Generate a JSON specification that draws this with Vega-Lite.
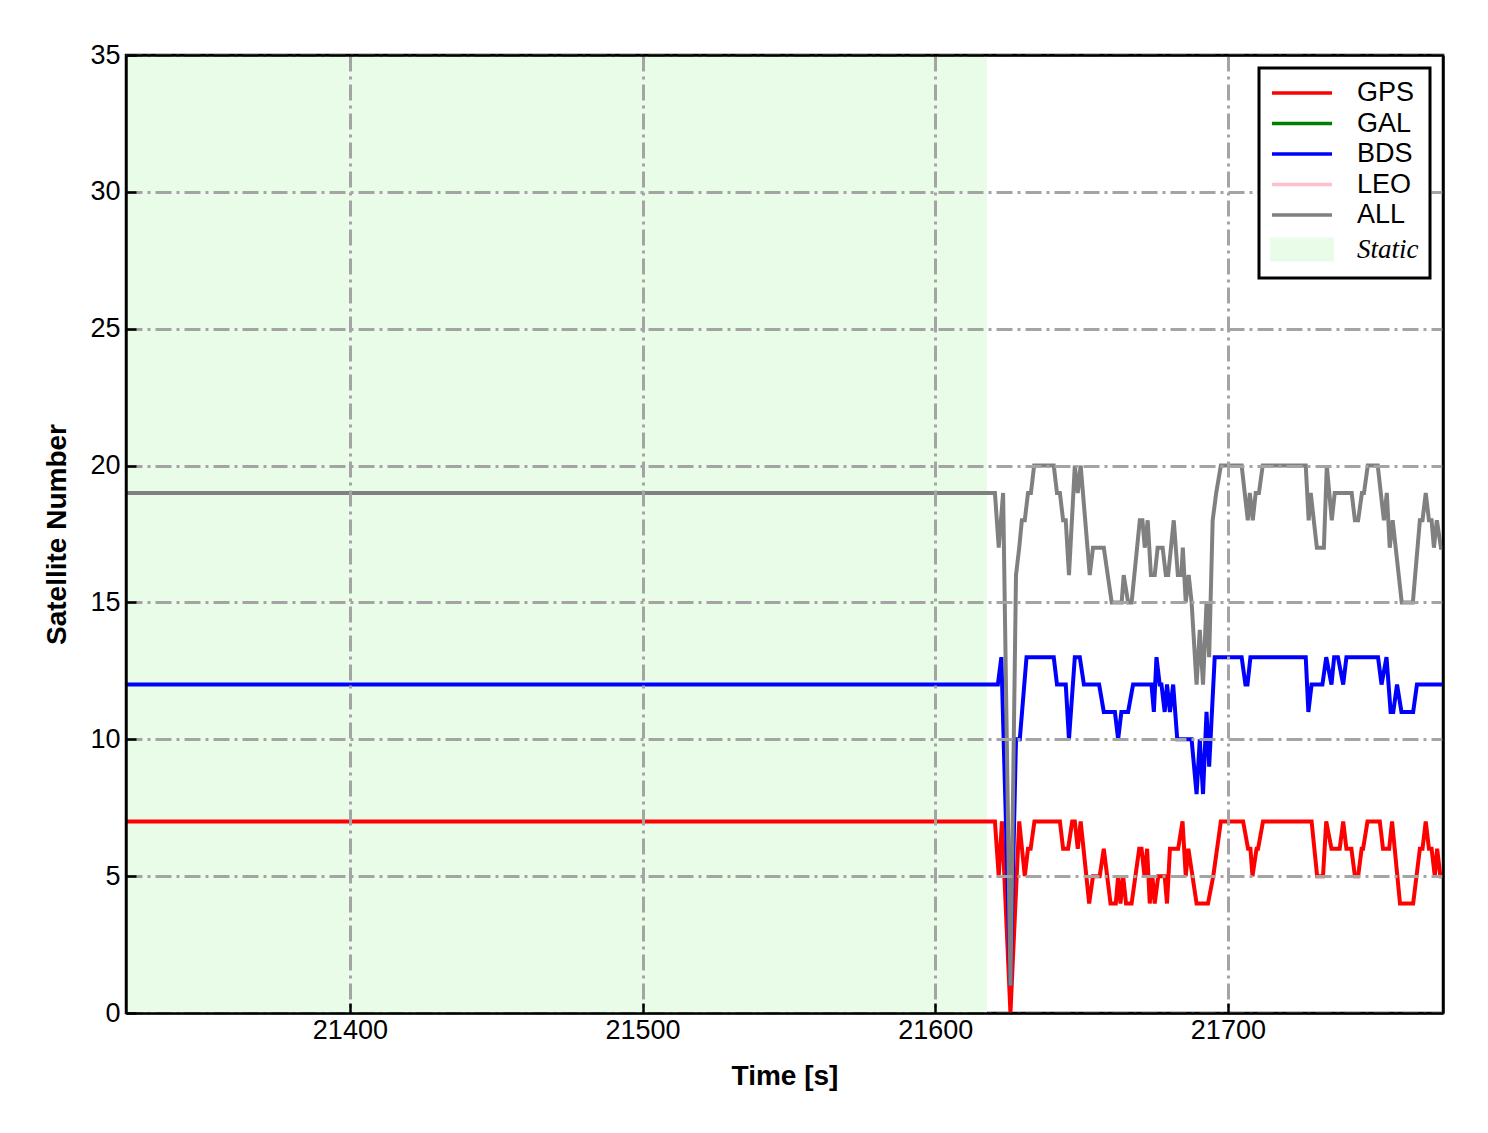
{
  "$schema": "https://vega.github.io/schema/vega-lite/v6.json",
  "width": 1317,
  "height": 958,
  "autosize": {"type": "none"},
  "padding": {"left": 126, "top": 55, "right": 45, "bottom": 120},
  "background": "white",
  "config": {
    "view": {"stroke": "black", "strokeWidth": 2.5},
    "axis": {
      "labelFont": "Liberation Sans", "labelFontSize": 27, "labelColor": "black",
      "titleFont": "Liberation Sans", "titleFontSize": 28, "titleFontWeight": "bold", "titleColor": "black",
      "domain": true, "domainColor": "black", "domainWidth": 2.5,
      "tickColor": "black", "tickWidth": 2.5,
      "gridColor": "#a4a4a4", "gridWidth": 3, "gridDash": [16, 5, 3, 5]
    },
    "legend": {
      "orient": "top-right", "offset": 13, "title": null,
      "strokeColor": "black", "strokeWidth": 3, "fillColor": "white", "padding": 11,
      "symbolSize": 576, "symbolOffset": 18, "labelOffset": 41, "rowPadding": 3.5,
      "labelFont": "Liberation Sans", "labelFontSize": 27, "labelColor": "black",
      "symbolStrokeWidth": 3.5, "symbolType": "M-2.5,0H2.5"
    }
  },
  "resolve": {"axis": {"x": "independent", "y": "independent"}},
  "layer": [
    {
      "data": {"values": [{"start": 21323.5, "end": 21617.7, "s": "Static"}]},
      "mark": {"type": "rect", "zindex": 0},
      "encoding": {
        "x": {"field": "start", "type": "quantitative", "scale": {"domain": [21323.5, 21773.5], "nice": false, "zero": false},
              "axis": {"orient": "top", "title": null, "labels": false, "ticks": false, "grid": false, "zindex": 1, "values": [21400, 21500, 21600, 21700]}},
        "x2": {"field": "end"},
        "y": {"datum": 0, "type": "quantitative",
              "axis": {"orient": "right", "title": null, "labels": false, "ticks": false, "grid": false, "zindex": 1, "values": [0, 5, 10, 15, 20, 25, 30, 35]}},
        "y2": {"datum": 35},
        "color": {"field": "s", "type": "nominal"}
      }
    },
    {
      "data": {"values": [
        {"t":21323.5,"n":7,"s":"GPS"},{"t":21620.4,"n":7,"s":"GPS"},{"t":21621.7,"n":5,"s":"GPS"},{"t":21622.8,"n":7,"s":"GPS"},{"t":21625.7,"n":0,"s":"GPS"},{"t":21628.7,"n":7,"s":"GPS"},{"t":21630.6,"n":5,"s":"GPS"},{"t":21631.7,"n":6,"s":"GPS"},{"t":21632.6,"n":6,"s":"GPS"},{"t":21633.9,"n":7,"s":"GPS"},{"t":21642.6,"n":7,"s":"GPS"},{"t":21643.7,"n":6,"s":"GPS"},{"t":21645.4,"n":6,"s":"GPS"},{"t":21646.8,"n":7,"s":"GPS"},{"t":21647.7,"n":7,"s":"GPS"},{"t":21648.7,"n":6,"s":"GPS"},{"t":21649.7,"n":7,"s":"GPS"},{"t":21652.6,"n":4,"s":"GPS"},{"t":21653.9,"n":5,"s":"GPS"},{"t":21656.2,"n":5,"s":"GPS"},{"t":21657.6,"n":6,"s":"GPS"},{"t":21659.9,"n":4,"s":"GPS"},{"t":21661.7,"n":4,"s":"GPS"},{"t":21662.5,"n":5,"s":"GPS"},{"t":21663.3,"n":4,"s":"GPS"},{"t":21664.2,"n":5,"s":"GPS"},{"t":21665.2,"n":4,"s":"GPS"},{"t":21667.1,"n":4,"s":"GPS"},{"t":21669.7,"n":6,"s":"GPS"},{"t":21670.5,"n":6,"s":"GPS"},{"t":21671.5,"n":5,"s":"GPS"},{"t":21672.4,"n":6,"s":"GPS"},{"t":21673.3,"n":4,"s":"GPS"},{"t":21674.2,"n":5,"s":"GPS"},{"t":21675.0,"n":4,"s":"GPS"},{"t":21676.2,"n":5,"s":"GPS"},{"t":21678.4,"n":5,"s":"GPS"},{"t":21679.2,"n":4,"s":"GPS"},{"t":21680.2,"n":6,"s":"GPS"},{"t":21683.0,"n":6,"s":"GPS"},{"t":21684.5,"n":7,"s":"GPS"},{"t":21685.6,"n":5,"s":"GPS"},{"t":21686.5,"n":6,"s":"GPS"},{"t":21689.3,"n":4,"s":"GPS"},{"t":21693.2,"n":4,"s":"GPS"},{"t":21695.0,"n":5,"s":"GPS"},{"t":21697.6,"n":7,"s":"GPS"},{"t":21705.2,"n":7,"s":"GPS"},{"t":21706.9,"n":6,"s":"GPS"},{"t":21707.7,"n":6,"s":"GPS"},{"t":21708.4,"n":5,"s":"GPS"},{"t":21709.8,"n":6,"s":"GPS"},{"t":21710.3,"n":6,"s":"GPS"},{"t":21712.0,"n":7,"s":"GPS"},{"t":21728.6,"n":7,"s":"GPS"},{"t":21730.5,"n":5,"s":"GPS"},{"t":21732.5,"n":5,"s":"GPS"},{"t":21733.6,"n":7,"s":"GPS"},{"t":21735.4,"n":6,"s":"GPS"},{"t":21738.2,"n":6,"s":"GPS"},{"t":21739.4,"n":7,"s":"GPS"},{"t":21740.5,"n":6,"s":"GPS"},{"t":21742.2,"n":6,"s":"GPS"},{"t":21743.4,"n":5,"s":"GPS"},{"t":21744.5,"n":5,"s":"GPS"},{"t":21745.7,"n":6,"s":"GPS"},{"t":21746.2,"n":6,"s":"GPS"},{"t":21747.7,"n":7,"s":"GPS"},{"t":21751.9,"n":7,"s":"GPS"},{"t":21753.0,"n":6,"s":"GPS"},{"t":21755.1,"n":6,"s":"GPS"},{"t":21756.1,"n":7,"s":"GPS"},{"t":21758.8,"n":4,"s":"GPS"},{"t":21763.3,"n":4,"s":"GPS"},{"t":21765.6,"n":6,"s":"GPS"},{"t":21766.5,"n":6,"s":"GPS"},{"t":21767.6,"n":7,"s":"GPS"},{"t":21768.7,"n":6,"s":"GPS"},{"t":21769.6,"n":6,"s":"GPS"},{"t":21770.7,"n":5,"s":"GPS"},{"t":21771.5,"n":6,"s":"GPS"},{"t":21772.6,"n":5,"s":"GPS"},{"t":21773.5,"n":5,"s":"GPS"},
        {"t":21323.5,"n":12,"s":"BDS"},{"t":21621.4,"n":12,"s":"BDS"},{"t":21622.6,"n":13,"s":"BDS"},{"t":21625.7,"n":1,"s":"BDS"},{"t":21627.6,"n":10,"s":"BDS"},{"t":21628.9,"n":10,"s":"BDS"},{"t":21631.2,"n":13,"s":"BDS"},{"t":21640.5,"n":13,"s":"BDS"},{"t":21641.6,"n":12,"s":"BDS"},{"t":21644.6,"n":12,"s":"BDS"},{"t":21645.7,"n":10,"s":"BDS"},{"t":21647.7,"n":13,"s":"BDS"},{"t":21649.4,"n":13,"s":"BDS"},{"t":21650.8,"n":12,"s":"BDS"},{"t":21656.0,"n":12,"s":"BDS"},{"t":21657.6,"n":11,"s":"BDS"},{"t":21661.4,"n":11,"s":"BDS"},{"t":21662.5,"n":10,"s":"BDS"},{"t":21663.6,"n":11,"s":"BDS"},{"t":21665.9,"n":11,"s":"BDS"},{"t":21667.6,"n":12,"s":"BDS"},{"t":21673.9,"n":12,"s":"BDS"},{"t":21674.7,"n":11,"s":"BDS"},{"t":21675.6,"n":13,"s":"BDS"},{"t":21676.7,"n":12,"s":"BDS"},{"t":21677.3,"n":12,"s":"BDS"},{"t":21678.4,"n":11,"s":"BDS"},{"t":21679.2,"n":12,"s":"BDS"},{"t":21680.2,"n":11,"s":"BDS"},{"t":21681.3,"n":12,"s":"BDS"},{"t":21682.7,"n":10,"s":"BDS"},{"t":21687.6,"n":10,"s":"BDS"},{"t":21689.3,"n":8,"s":"BDS"},{"t":21690.4,"n":10,"s":"BDS"},{"t":21691.5,"n":8,"s":"BDS"},{"t":21692.7,"n":11,"s":"BDS"},{"t":21693.6,"n":9,"s":"BDS"},{"t":21695.5,"n":13,"s":"BDS"},{"t":21704.7,"n":13,"s":"BDS"},{"t":21706.0,"n":12,"s":"BDS"},{"t":21706.7,"n":12,"s":"BDS"},{"t":21707.7,"n":13,"s":"BDS"},{"t":21726.6,"n":13,"s":"BDS"},{"t":21727.5,"n":11,"s":"BDS"},{"t":21728.6,"n":12,"s":"BDS"},{"t":21732.3,"n":12,"s":"BDS"},{"t":21733.6,"n":13,"s":"BDS"},{"t":21735.4,"n":12,"s":"BDS"},{"t":21736.3,"n":13,"s":"BDS"},{"t":21737.6,"n":13,"s":"BDS"},{"t":21739.4,"n":12,"s":"BDS"},{"t":21740.5,"n":13,"s":"BDS"},{"t":21751.3,"n":13,"s":"BDS"},{"t":21752.5,"n":12,"s":"BDS"},{"t":21754.2,"n":13,"s":"BDS"},{"t":21755.6,"n":11,"s":"BDS"},{"t":21756.5,"n":11,"s":"BDS"},{"t":21757.8,"n":12,"s":"BDS"},{"t":21759.3,"n":11,"s":"BDS"},{"t":21763.3,"n":11,"s":"BDS"},{"t":21764.6,"n":12,"s":"BDS"},{"t":21773.5,"n":12,"s":"BDS"},
        {"t":21323.5,"n":19,"s":"ALL"},{"t":21620.4,"n":19,"s":"ALL"},{"t":21621.7,"n":17,"s":"ALL"},{"t":21623.2,"n":19,"s":"ALL"},{"t":21625.7,"n":1,"s":"ALL"},{"t":21627.6,"n":16,"s":"ALL"},{"t":21628.7,"n":17,"s":"ALL"},{"t":21629.6,"n":18,"s":"ALL"},{"t":21630.6,"n":18,"s":"ALL"},{"t":21631.7,"n":19,"s":"ALL"},{"t":21632.7,"n":19,"s":"ALL"},{"t":21633.8,"n":20,"s":"ALL"},{"t":21640.5,"n":20,"s":"ALL"},{"t":21641.6,"n":19,"s":"ALL"},{"t":21642.6,"n":19,"s":"ALL"},{"t":21643.7,"n":18,"s":"ALL"},{"t":21644.6,"n":18,"s":"ALL"},{"t":21645.7,"n":16,"s":"ALL"},{"t":21647.7,"n":20,"s":"ALL"},{"t":21648.7,"n":19,"s":"ALL"},{"t":21649.7,"n":20,"s":"ALL"},{"t":21652.8,"n":16,"s":"ALL"},{"t":21653.9,"n":17,"s":"ALL"},{"t":21657.6,"n":17,"s":"ALL"},{"t":21660.3,"n":15,"s":"ALL"},{"t":21663.7,"n":15,"s":"ALL"},{"t":21664.4,"n":16,"s":"ALL"},{"t":21665.9,"n":15,"s":"ALL"},{"t":21667.1,"n":15,"s":"ALL"},{"t":21669.9,"n":18,"s":"ALL"},{"t":21670.8,"n":18,"s":"ALL"},{"t":21671.6,"n":17,"s":"ALL"},{"t":21672.6,"n":18,"s":"ALL"},{"t":21673.7,"n":16,"s":"ALL"},{"t":21675.0,"n":16,"s":"ALL"},{"t":21676.0,"n":17,"s":"ALL"},{"t":21677.7,"n":17,"s":"ALL"},{"t":21678.8,"n":16,"s":"ALL"},{"t":21679.6,"n":16,"s":"ALL"},{"t":21681.5,"n":18,"s":"ALL"},{"t":21682.9,"n":16,"s":"ALL"},{"t":21684.1,"n":16,"s":"ALL"},{"t":21684.6,"n":17,"s":"ALL"},{"t":21685.6,"n":15,"s":"ALL"},{"t":21686.6,"n":16,"s":"ALL"},{"t":21687.6,"n":15,"s":"ALL"},{"t":21689.3,"n":12,"s":"ALL"},{"t":21690.4,"n":14,"s":"ALL"},{"t":21691.5,"n":12,"s":"ALL"},{"t":21692.7,"n":15,"s":"ALL"},{"t":21693.6,"n":13,"s":"ALL"},{"t":21694.8,"n":18,"s":"ALL"},{"t":21696.0,"n":19,"s":"ALL"},{"t":21697.6,"n":20,"s":"ALL"},{"t":21704.7,"n":20,"s":"ALL"},{"t":21706.8,"n":18,"s":"ALL"},{"t":21707.5,"n":19,"s":"ALL"},{"t":21708.5,"n":18,"s":"ALL"},{"t":21709.5,"n":19,"s":"ALL"},{"t":21710.6,"n":19,"s":"ALL"},{"t":21711.9,"n":20,"s":"ALL"},{"t":21726.6,"n":20,"s":"ALL"},{"t":21727.6,"n":18,"s":"ALL"},{"t":21728.3,"n":19,"s":"ALL"},{"t":21730.4,"n":17,"s":"ALL"},{"t":21732.8,"n":17,"s":"ALL"},{"t":21733.8,"n":20,"s":"ALL"},{"t":21735.5,"n":18,"s":"ALL"},{"t":21736.5,"n":19,"s":"ALL"},{"t":21742.3,"n":19,"s":"ALL"},{"t":21743.4,"n":18,"s":"ALL"},{"t":21744.5,"n":18,"s":"ALL"},{"t":21745.8,"n":19,"s":"ALL"},{"t":21746.5,"n":19,"s":"ALL"},{"t":21747.8,"n":20,"s":"ALL"},{"t":21751.2,"n":20,"s":"ALL"},{"t":21753.3,"n":18,"s":"ALL"},{"t":21754.3,"n":19,"s":"ALL"},{"t":21755.3,"n":17,"s":"ALL"},{"t":21756.3,"n":18,"s":"ALL"},{"t":21759.4,"n":15,"s":"ALL"},{"t":21763.2,"n":15,"s":"ALL"},{"t":21765.6,"n":18,"s":"ALL"},{"t":21766.5,"n":18,"s":"ALL"},{"t":21767.6,"n":19,"s":"ALL"},{"t":21768.7,"n":18,"s":"ALL"},{"t":21769.6,"n":18,"s":"ALL"},{"t":21770.4,"n":17,"s":"ALL"},{"t":21771.4,"n":18,"s":"ALL"},{"t":21772.8,"n":17,"s":"ALL"},{"t":21773.5,"n":17,"s":"ALL"}
      ]},
      "mark": {"type": "line", "strokeWidth": 4, "clip": true, "zindex": 2, "strokeJoin": "miter", "strokeMiterLimit": 3},
      "encoding": {
        "x": {"field": "t", "type": "quantitative",
              "axis": {"orient": "bottom", "title": "Time [s]", "values": [21400, 21500, 21600, 21700], "format": "d", "grid": true, "tickSize": -10, "labelPadding": 14, "titlePadding": 19, "zindex": 1}},
        "y": {"field": "n", "type": "quantitative", "scale": {"domain": [0, 35], "nice": false},
              "axis": {"orient": "left", "title": "Satellite Number", "values": [0, 5, 10, 15, 20, 25, 30, 35], "grid": true, "tickSize": -10, "labelPadding": 16, "titlePadding": 18, "zindex": 1}},
        "color": {
          "field": "s", "type": "nominal",
          "scale": {"domain": ["GPS", "GAL", "BDS", "LEO", "ALL", "Static"], "range": ["#ff0000", "#008000", "#0000ff", "#ffc0cb", "#808080", "#e8fce8"]},
          "legend": {
            "zindex": 3,
            "encode": {
              "symbols": {"update": {
                "shape": {"signal": "datum.value === 'Static' ? 'M-2.5,-0.85H2.5V0.85H-2.5Z' : 'M-2.5,0H2.5'"},
                "fill": {"signal": "datum.value === 'Static' ? '#e8fce8' : 'transparent'"},
                "stroke": {"signal": "datum.value === 'Static' ? 'transparent' : scale('color', datum.value)"},
                "strokeWidth": {"value": 3.5},
                "opacity": {"value": 1}
              }},
              "labels": {"update": {
                "font": {"signal": "datum.value === 'Static' ? 'Liberation Serif' : 'Liberation Sans'"},
                "fontStyle": {"signal": "datum.value === 'Static' ? 'italic' : 'normal'"}
              }}
            }
          }
        }
      }
    }
  ]
}
